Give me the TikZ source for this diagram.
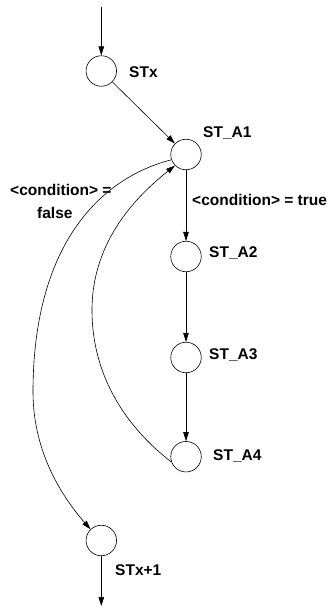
\documentclass[tikz,border=0pt]{standalone}
\usepackage{fontspec}
\setmainfont{Liberation Sans}
\usetikzlibrary{arrows.meta}
\begin{document}
\begin{tikzpicture}[x=1pt,y=-1pt,
  state/.style={draw,circle,minimum size=30.5pt,inner sep=0pt,line width=0.6pt},
  lbl/.style={anchor=base west,inner sep=0pt,font=\fontsize{15.5}{18}\selectfont\bfseries},
  conn/.style={line width=0.6pt,-{Triangle[length=9pt,width=5.5pt]}},
  plain/.style={line width=0.6pt}]
\useasboundingbox (0,0) rectangle (331,609);
\node[state] (STx) at (101.3,71) {};
\node[state] (A1) at (186,154.5) {};
\node[state] (A2) at (186,256.5) {};
\node[state] (A3) at (186,357.5) {};
\node[state] (A4) at (186,456.7) {};
\node[state] (X1) at (101.3,540.5) {};
\coordinate (top) at (101.3,7);
\coordinate (bot) at (101.3,606);
\coordinate (m1) at (33,392);
\coordinate (m2) at (92,310);
\node[lbl] (lSTx) at (129,78) {STx};
\node[lbl] (lA1) at (203,138) {ST\_A1};
\node[lbl] (lA2) at (209,257.3) {ST\_A2};
\node[lbl] (lA3) at (209,359) {ST\_A3};
\node[lbl] (lA4) at (213,460) {ST\_A4};
\node[lbl] (lX1) at (115,575) {STx+1};
\node[lbl] (ctrue) at (192,206) {<condition> = true};
\node[lbl] (cfalse1) at (10,196) {<condition> =};
\node[lbl] (cfalse2) at (37,219) {false};
\draw[conn] (top) -- (STx);
\draw[conn] (STx) -- (A1);
\draw[conn] (A1) -- (A2);
\draw[conn] (A2) -- (A3);
\draw[conn] (A3) -- (A4);
\draw[conn] (X1) -- (bot);
\draw[plain] (A1.200) .. controls (100,178) and (33,245) .. (m1);
\draw[conn] (m1) .. controls (33,455) and (65,500) .. (X1.134);
\draw[plain] (A4.200) .. controls (130,430) and (92,380) .. (m2);
\draw[conn] (m2) .. controls (92,240) and (138,195) .. (A1.225);
\end{tikzpicture}
\end{document}
